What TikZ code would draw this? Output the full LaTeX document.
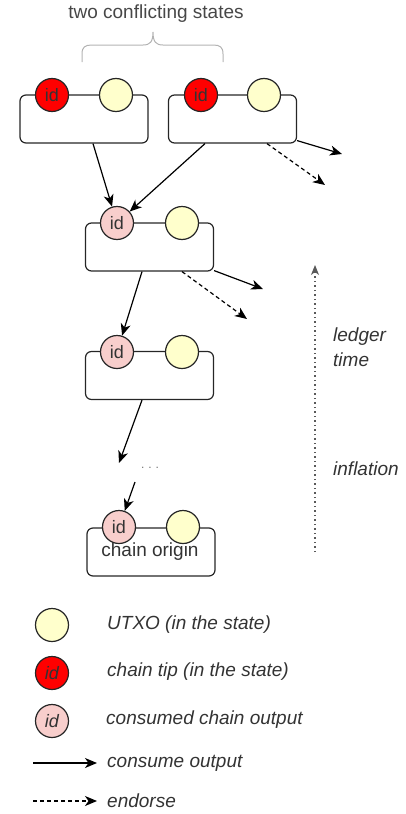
\documentclass[tikz,border=0pt]{standalone}
\usepackage{fontspec}
\setmainfont{Liberation Sans}
\usetikzlibrary{arrows.meta}
\definecolor{tipred}{HTML}{FF0000}
\definecolor{pinkc}{HTML}{F8CECC}
\definecolor{yelc}{HTML}{FFFFCC}
\definecolor{txt}{HTML}{333333}
\definecolor{brc}{HTML}{B3B3B3}
\tikzset{
  statebox/.style={draw=black!85, line width=1.2pt, rounded corners=6pt, minimum width=128pt, minimum height=48pt, inner sep=0pt},
  outc/.style={circle, draw=black!85, line width=1.2pt, minimum size=33pt, inner sep=0pt, font=\fontsize{18}{20}\selectfont, text=txt},
  utxo/.style={outc, fill=yelc},
  tip/.style={outc, fill=tipred},
  used/.style={outc, fill=pinkc},
  cons/.style={line width=1.2pt, -{Stealth[length=12pt,width=10pt,inset=3.5pt]}},
  endo/.style={cons, dash pattern=on 4pt off 3pt},
  lbl/.style={font=\fontsize{19}{22}\selectfont\itshape, text=txt, anchor=west, inner sep=0pt},
}
\begin{document}
\begin{tikzpicture}[x=1pt,y=-1pt]
\useasboundingbox (0,0) rectangle (406,814);
% header
\node[font=\fontsize{19}{22}\selectfont, text=txt!90] (hdr) at (156,14) {two conflicting states};
\draw[brc, line width=1pt] (82,62) -- (82,54) .. controls (82,47) and (85,45) .. (92,45) -- (143,45) .. controls (150,45) and (153,42) .. (153,32)
  .. controls (153,42) and (156,45) .. (163,45) -- (213,45) .. controls (220,45) and (223,47) .. (223,54) -- (223,62);
% boxes
\node[statebox] (b1) at (84,119) {};
\node[statebox] (b2) at (232.5,119) {};
\node[statebox] (b3) at (149.5,247) {};
\node[statebox] (b4) at (149.5,375.5) {};
\node[statebox] (b5) at (151,552) {};
\node[font=\fontsize{19}{22}\selectfont, text=txt] (co) at (150,552) {chain origin};
% circles
\node[tip] (r1) at (52,95) {id};
\node[utxo] (y1) at (116,95) {};
\node[tip] (r2) at (201,95) {id};
\node[utxo] (y2) at (264,95) {};
\node[used] (p3) at (117,223) {id};
\node[utxo] (y3) at (182,223) {};
\node[used] (p4) at (117,352) {id};
\node[utxo] (y4) at (182,352) {};
\node[used] (p5) at (119,527) {id};
\node[utxo] (y5) at (183,527) {};
% dots
\node[font=\fontsize{12}{14}\selectfont, text=black!55] (dots) at (150,468) {.\hspace{4pt}.\hspace{4pt}.};
% free ends
\coordinate (e2s) at (342,154);
\coordinate (e2d) at (325,185);
\coordinate (e3s) at (263,289);
\coordinate (e3d) at (247,319);
\coordinate (e4) at (119,463);
\coordinate (d5) at (135,482);
% arrows
\draw[cons] ([xshift=9pt]b1.south) -- (p3);
\draw[cons] ([xshift=-27.5pt]b2.south) -- (p3);
\draw[cons] ([yshift=3pt]b2.south east) -- (e2s);
\draw[endo] ([xshift=34.5pt]b2.south) -- (e2d);
\draw[cons] ([yshift=1pt]b3.south east) -- (e3s);
\draw[endo] ([xshift=32.5pt]b3.south) -- (e3d);
\draw[cons] ([xshift=-7.5pt]b3.south) -- (p4);
\draw[cons] ([xshift=-7.5pt]b4.south) -- (e4);
\draw[cons] (d5) -- (p5);
% ledger time
\coordinate (lt0) at (315,552);
\coordinate (lt1) at (315,265);
\draw[black!65, line width=1.1pt, dash pattern=on 1.5pt off 3pt, -{Stealth[length=10pt,width=8pt,inset=3pt]}] (lt0) -- (lt1);
\node[lbl] (ledger) at (333,337) {ledger};
\node[lbl] (time) at (333,360) {time};
\node[lbl] (infl) at (333,469) {inflation};
% legend
\node[utxo] (ly) at (52,625) {};
\node[lbl] (lyt) at (107,625) {UTXO (in the state)};
\node[tip, font=\fontsize{18}{20}\selectfont\itshape] (lr) at (52,673) {id};
\node[lbl] (lrt) at (107,672) {chain tip (in the state)};
\node[used, font=\fontsize{18}{20}\selectfont\itshape] (lp) at (52,721) {id};
\node[lbl] (lpt) at (106,720) {consumed chain output};
\coordinate (la0) at (33,763);
\coordinate (la1) at (97,763);
\draw[cons] (la0) -- (la1);
\node[lbl] (lat) at (107,763) {consume output};
\coordinate (ld0) at (33,801);
\coordinate (ld1) at (97,801);
\draw[endo] (ld0) -- (ld1);
\node[lbl] (ldt) at (107,801) {endorse};
\end{tikzpicture}
\end{document}
